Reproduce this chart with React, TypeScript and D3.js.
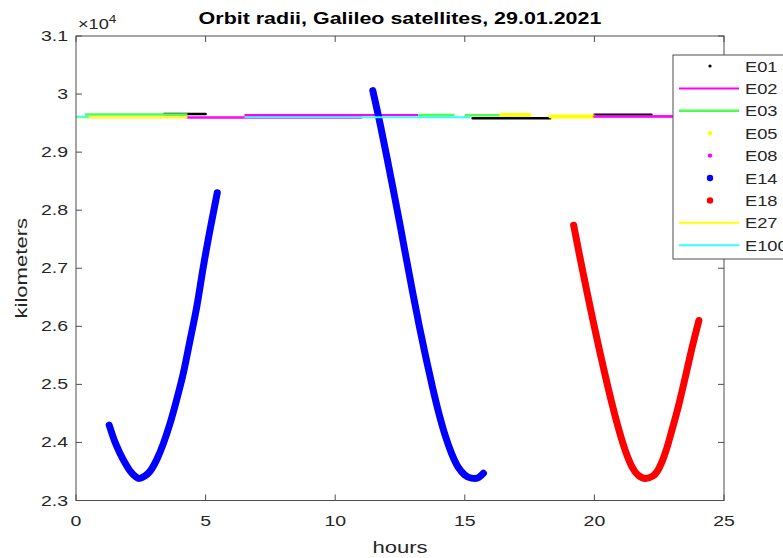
import React from "react";
import * as d3 from "d3";

// ---- data (hours, kilometers) ----
const xTicks = [0, 5, 10, 15, 20, 25];
const yTicks = [23000, 24000, 25000, 26000, 27000, 28000, 29000, 30000, 31000];
const yTickLabels = ["2.3", "2.4", "2.5", "2.6", "2.7", "2.8", "2.9", "3", "3.1"];

// E14 (eccentric) – two visible arcs
const e14T = [1.28, 1.5, 1.7, 1.9, 2.1, 2.3, 2.44, 2.65, 2.85, 3.11, 3.37, 3.63, 3.88, 4.14, 4.4, 4.66, 4.91, 5.17, 5.45,
  NaN,
  11.45, 11.75, 12.0, 12.25, 12.5, 12.75, 13.0, 13.25, 13.5, 13.75, 14.0, 14.25, 14.5, 14.75, 15.0, 15.25, 15.4, 15.55, 15.72];
const e14R = [24300, 24010, 23810, 23640, 23500, 23410, 23380, 23420, 23500, 23700, 23980, 24330, 24730, 25190, 25760, 26340, 27020, 27660, 28300,
  NaN,
  30060, 29450, 28900, 28330, 27750, 27150, 26560, 25990, 25460, 24960, 24500, 24110, 23800, 23570, 23440, 23385, 23380, 23400, 23470];

// E18 (eccentric)
const e18T = [19.2, 19.45, 19.7, 19.95, 20.2, 20.45, 20.7, 20.95, 21.2, 21.45, 21.7, 21.97, 22.25, 22.5, 22.75, 22.99, 23.25, 23.5, 23.75, 24.03];
const e18R = [27740, 27170, 26620, 26090, 25580, 25090, 24630, 24210, 23850, 23580, 23430, 23380, 23420, 23560, 23840, 24210, 24640, 25110, 25600, 26100];

// near-circular orbits (visible windows)
const e01T = [3.4, 5.0, NaN, 15.3, 18.3, NaN, 20.0, 22.2];
const e01R = [29655, 29655, NaN, 29585, 29585, NaN, 29645, 29645];
const e02T = [6.5, 13.2, NaN, 20.0, 25.0];
const e02R = [29640, 29640, NaN, 29620, 29620];
const e03T = [0.35, 4.3, NaN, 13.2, 14.6, NaN, 15.0, 16.4];
const e03R = [29650, 29650, NaN, 29640, 29640, NaN, 29635, 29635];
const e05T = [16.4, 17.5, NaN, 18.3, 20.0];
const e05R = [29640, 29640, NaN, 29615, 29615];
const e08T = [4.3, 11.0, NaN, 20.0, 23.0];
const e08R = [29595, 29595, NaN, 29612, 29612];
const e27T = [0.0, 4.3];
const e27R = [29595, 29595];
const e100T = [0.0, 0.5, NaN, 6.5, 15.2];
const e100R = [29610, 29610, NaN, 29602, 29602];

const seriesNames = ["E01", "E02", "E03", "E05", "E08", "E14", "E18", "E27", "E100"];

type S = { name: string; t: number[]; r: number[]; color: string; width: number; dot: boolean; legR: number };
const series: S[] = [
  { name: "E01", t: e01T, r: e01R, color: "#000000", width: 2.5, dot: true, legR: 1.6 },
  { name: "E02", t: e02T, r: e02R, color: "#ff00ff", width: 2, dot: false, legR: 0 },
  { name: "E03", t: e03T, r: e03R, color: "#4dff4d", width: 2.5, dot: false, legR: 0 },
  { name: "E05", t: e05T, r: e05R, color: "#ffff00", width: 4, dot: true, legR: 2.2 },
  { name: "E08", t: e08T, r: e08R, color: "#ff00ff", width: 2.5, dot: true, legR: 2.2 },
  { name: "E14", t: e14T, r: e14R, color: "#0000ff", width: 7, dot: true, legR: 3.2 },
  { name: "E18", t: e18T, r: e18R, color: "#ff0000", width: 7, dot: true, legR: 3.2 },
  { name: "E27", t: e27T, r: e27R, color: "#ffff00", width: 2, dot: false, legR: 0 },
  { name: "E100", t: e100T, r: e100R, color: "#33ffff", width: 2, dot: false, legR: 0 },
];

const W = 783, H = 558;
const L = 76, R = 724, T = 36, B = 500.5;
const FONT = "'Liberation Sans', Arial, Helvetica, sans-serif";
const TXT = "#262626";
const AX = "#4d4d4d";
const SX = 1.3;

function T2(props: {
  x: number; y: number; size: number; anchor?: string; bold?: boolean; rot?: number; sx?: number; fill?: string;
  children: React.ReactNode;
}) {
  const { x, y, size, anchor = "start", bold, rot, sx = SX, fill = TXT, children } = props;
  const tf = `translate(${x},${y})${rot ? ` rotate(${rot})` : ""} scale(${sx},1)`;
  return (
    <text transform={tf} x={0} y={0} textAnchor={anchor} fontFamily={FONT} fontSize={size}
      fontWeight={bold ? "bold" : "normal"} fill={fill}>
      {children}
    </text>
  );
}

export default function App() {
  const x = d3.scaleLinear().domain([0, 25]).range([L, R]);
  const y = d3.scaleLinear().domain([23000, 31000]).range([B, T]);

  const line = d3
    .line<[number, number]>()
    .defined((d) => !isNaN(d[0]) && !isNaN(d[1]))
    .x((d) => x(d[0]))
    .y((d) => y(d[1]))
    .curve(d3.curveMonotoneX);

  const legTop = 66, legStep = 22.4;

  return (
    <div style={{ position: "absolute", left: 0, top: 0, width: W, height: H, background: "#fff" }}>
      <svg width={W} height={H} style={{ display: "block" }}>
        <rect x={0} y={0} width={W} height={H} fill="#fff" />
        {/* title */}
        <T2 x={(L + R) / 2} y={24} size={16.5} anchor="middle" bold fill="#000">
          Orbit radii, Galileo satellites, 29.01.2021
        </T2>
        {/* exponent */}
        <T2 x={78} y={29} size={14}>
          ×10<tspan dy={-6} fontSize={10.5}>4</tspan>
        </T2>

        {/* series */}
        <g>
          {series.map((s) => {
            const pts = s.t.map((t, i) => [t, s.r[i]] as [number, number]);
            return (
              <path
                key={s.name}
                d={line(pts) || ""}
                fill="none"
                stroke={s.color}
                strokeWidth={s.width}
                strokeLinecap={s.dot ? "round" : "butt"}
                strokeLinejoin="round"
              />
            );
          })}
        </g>

        {/* axes box */}
        <rect x={L} y={T} width={R - L} height={B - T} fill="none" stroke={AX} strokeWidth={1} />
        {xTicks.map((v) => (
          <g key={"x" + v}>
            <line x1={x(v)} x2={x(v)} y1={B} y2={B - 6} stroke={AX} />
            <line x1={x(v)} x2={x(v)} y1={T} y2={T + 6} stroke={AX} />
            <T2 x={x(v)} y={526} size={15} anchor="middle">{v}</T2>
          </g>
        ))}
        {yTicks.map((v, i) => (
          <g key={"y" + v}>
            <line x1={L} x2={L + 6} y1={y(v)} y2={y(v)} stroke={AX} />
            <line x1={R} x2={R - 6} y1={y(v)} y2={y(v)} stroke={AX} />
            <T2 x={68} y={y(v) + 5} size={15} anchor="end">{yTickLabels[i]}</T2>
          </g>
        ))}
        <T2 x={(L + R) / 2} y={553} size={17} anchor="middle">hours</T2>
        <T2 x={27} y={(T + B) / 2} size={17} anchor="middle" rot={-90}>kilometers</T2>

        {/* legend */}
        <rect x={673} y={55} width={130} height={204} fill="#fff" stroke={AX} strokeWidth={1} />
        {series.map((s, i) => {
          const cy = legTop + i * legStep;
          return (
            <g key={"leg" + s.name}>
              {s.dot ? (
                <circle cx={710} cy={cy} r={s.legR} fill={s.color} />
              ) : (
                <line x1={679} x2={739} y1={cy} y2={cy} stroke={s.color} strokeWidth={s.width} />
              )}
              <T2 x={745} y={cy + 5.5} size={15} sx={1.22}>{seriesNames[i]}</T2>
            </g>
          );
        })}
      </svg>
    </div>
  );
}
